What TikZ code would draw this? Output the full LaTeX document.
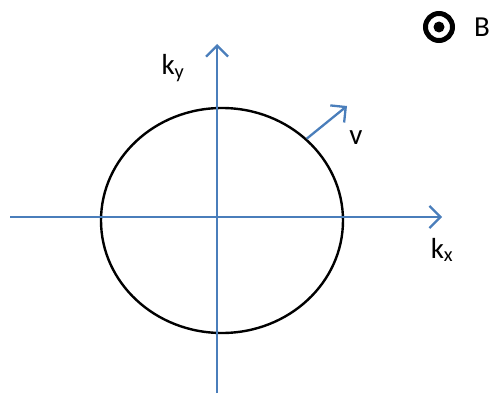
\documentclass[tikz,border=0pt]{standalone}
\usepackage{fontspec}
\setmainfont{Carlito}
\usetikzlibrary{arrows.meta,shapes.geometric}
\definecolor{axblue}{HTML}{4A7EBB}

\begin{document}
\begin{tikzpicture}[x=1pt,y=-1pt,
  axis/.style={draw=axblue,line width=2.3pt,
               -{Straight Barb[length=11pt,width=22pt,line width=2.3pt]}},
  surf/.style={draw=black,line width=2.4pt,ellipse,inner sep=0pt,
               minimum width=242pt,minimum height=225pt},
  lbl/.style={font=\fontsize{29}{32}\selectfont,inner sep=0pt},
]
\useasboundingbox (0,0) rectangle (498,396);

\node[surf] (fs) at (222,220.5) {};

\coordinate (xl) at (10,217);
\coordinate (xr) at (442,217);
\coordinate (yb) at (217,393);
\coordinate (yt) at (217,44);
\draw[axis] (xl) -- (xr);
\draw[axis] (yb) -- (yt);

\coordinate (vtip) at (347,106);
\draw[axis] (fs.44) -- (vtip);

\node[lbl] (ky) at (173,68) {k\textsubscript{y}};
\node[lbl] (kx) at (442,250) {k\textsubscript{x}};
\node[lbl] (v) at (356,138) {v};

% field out of the page
\node[draw,circle,line width=5pt,minimum size=27pt,inner sep=0pt] (bsym) at (439,27) {};
\fill (bsym.center) circle (5.5pt);
\node[lbl,anchor=west] (blbl) at (474,27) {B};
\end{tikzpicture}
\end{document}
